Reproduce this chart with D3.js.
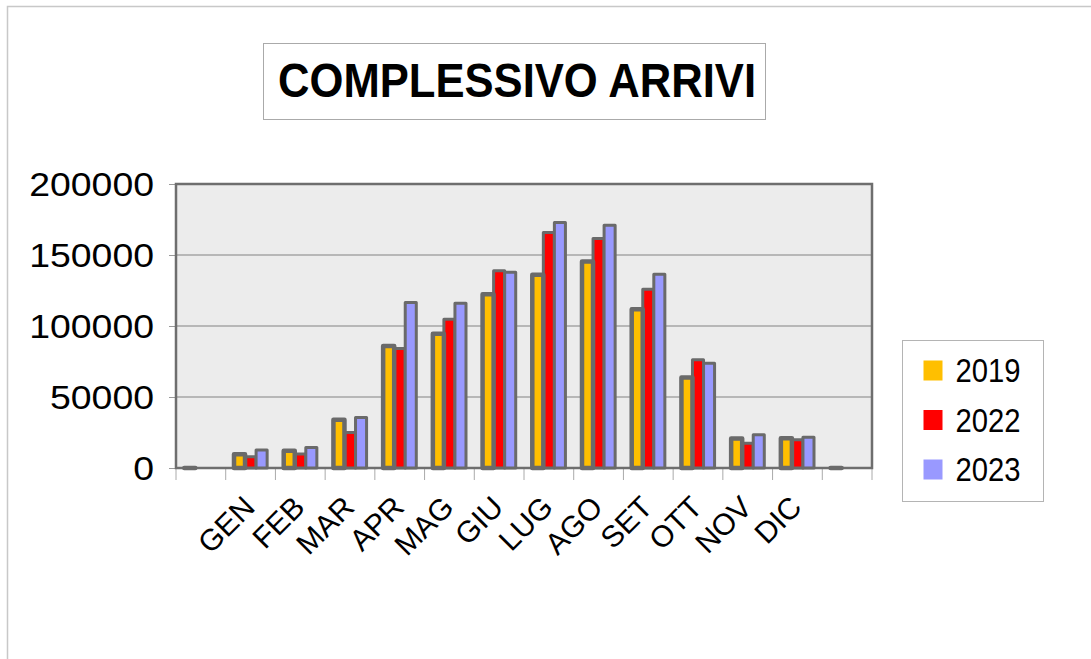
<!DOCTYPE html>
<html lang="it">
<head>
<meta charset="UTF-8">
<title>Complessivo arrivi</title>
<script src="https://d3js.org/d3.v7.min.js"></script>
<style>
  body { margin: 0; background: #fff; }
  svg { display: block; font-family: "Liberation Sans", Arial, sans-serif; }
</style>
</head>
<body>
<div id="chart"></div>
<script>
// categories (first and last slot are empty in the original sheet)
const months = ["", "GEN", "FEB", "MAR", "APR", "MAG", "GIU", "LUG", "AGO", "SET", "OTT", "NOV", "DIC", ""];
const years = ["2019", "2022", "2023"];
const colors = ["#ffbf00", "#ff0000", "#9999ff"];
const arrivi2019 = [0, 9700, 12100, 33900, 86000, 94500, 122400, 136100, 145400, 111800, 63700, 20800, 21000, 0];
const arrivi2022 = [null, 7900, 9900, 25000, 84200, 104800, 138900, 165800, 161600, 125900, 76200, 17500, 19900, null];
const arrivi2023 = [null, 12700, 14400, 35600, 116500, 116100, 137900, 172900, 171000, 136500, 73800, 23400, 21700, null];
const yTicks = [0, 50000, 100000, 150000, 200000];

const series = [arrivi2019, arrivi2022, arrivi2023];

const W = 1091, H = 659;
const plot = { left: 176, right: 872, top: 184, bottom: 468 };

const svg = d3.select("#chart").append("svg")
  .attr("width", W).attr("height", H);

// page frame
svg.append("rect")
  .attr("x", 7.5).attr("y", 6.5)
  .attr("width", W + 10).attr("height", H + 10)
  .attr("fill", "#fff").attr("stroke", "#c8c8c8").attr("stroke-width", 1.5);

// title box
svg.append("rect")
  .attr("x", 263.5).attr("y", 43.5).attr("width", 502).attr("height", 76)
  .attr("fill", "#fff").attr("stroke", "#aaa");
svg.append("text")
  .attr("x", 517).attr("y", 97)
  .attr("text-anchor", "middle")
  .attr("font-size", 48).attr("font-weight", "bold")
  .attr("textLength", 478).attr("lengthAdjust", "spacingAndGlyphs")
  .text("COMPLESSIVO ARRIVI");

const x = d3.scaleBand()
  .domain(d3.range(months.length))
  .range([plot.left, plot.right]);

const xSub = d3.scaleBand()
  .domain(d3.range(years.length))
  .range([0, x.bandwidth()])
  .paddingOuter(0.75);

const y = d3.scaleLinear()
  .domain([0, 200000])
  .range([plot.bottom, plot.top]);

// plot background
svg.append("rect")
  .attr("x", plot.left).attr("y", plot.top)
  .attr("width", plot.right - plot.left).attr("height", plot.bottom - plot.top)
  .attr("fill", "#ececec");

// grid
svg.append("g")
  .selectAll("line")
  .data(yTicks.slice(1, -1))
  .join("line")
  .attr("x1", plot.left).attr("x2", plot.right)
  .attr("y1", d => y(d)).attr("y2", d => y(d))
  .attr("stroke", "#a6a6a6").attr("stroke-width", 1.5);

// y axis
const yAxis = svg.append("g")
  .attr("transform", `translate(${plot.left},0)`)
  .call(d3.axisLeft(y).tickValues(yTicks).tickSize(7).tickPadding(15).tickFormat(d3.format("d")));
yAxis.select(".domain").remove();
yAxis.selectAll(".tick line").attr("stroke", "#999");
yAxis.selectAll(".tick text")
  .attr("font-size", 33)
  .attr("font-family", "Liberation Sans, Arial, sans-serif")
  .attr("fill", "#000")
  .attr("dy", "0.36em")
  .attr("textLength", d => String(d).length * 20.8)
  .attr("lengthAdjust", "spacingAndGlyphs");

// x axis ticks at slot boundaries
svg.append("g")
  .selectAll("line")
  .data(d3.range(months.length + 1))
  .join("line")
  .attr("x1", d => d < months.length ? x(d) : plot.right)
  .attr("x2", d => d < months.length ? x(d) : plot.right)
  .attr("y1", plot.bottom).attr("y2", plot.bottom + 12)
  .attr("stroke", "#aaa");

// plot border
svg.append("rect")
  .attr("x", plot.left).attr("y", plot.top)
  .attr("width", plot.right - plot.left).attr("height", plot.bottom - plot.top)
  .attr("fill", "none").attr("stroke", "#6e6e6e").attr("stroke-width", 2.5);

// bars: 2022 and 2023 first, then 2019 on top (as in the original)
const drawOrder = [1, 2, 0];
drawOrder.forEach(s => {
  svg.append("g")
    .selectAll("rect")
    .data(series[s].map((v, i) => ({ i, v })).filter(d => d.v !== null))
    .join("rect")
    .attr("x", d => x(d.i) + xSub(s))
    .attr("y", d => y(d.v))
    .attr("width", xSub.bandwidth())
    .attr("height", d => Math.max(y(0) - y(d.v), 0.01))
    .attr("fill", colors[s])
    .attr("stroke", "#6a6a6a")
    .attr("stroke-width", s === 0 ? 4.5 : 3)
    .attr("stroke-linejoin", "round");
});

// category labels
svg.append("g")
  .selectAll("text")
  .data(months.map((m, i) => ({ m, i })).filter(d => d.m !== ""))
  .join("text")
  .attr("transform", d => `translate(${x(d.i) + x.bandwidth() / 2 + 6},${plot.bottom + 41}) rotate(-45)`)
  .attr("text-anchor", "end")
  .attr("font-size", 30)
  .text(d => d.m);

// legend
const lg = svg.append("g").attr("transform", "translate(902.5,340.5)");
lg.append("rect")
  .attr("width", 141).attr("height", 161)
  .attr("fill", "#fff").attr("stroke", "#b4b4b4");
const item = lg.selectAll("g")
  .data(years)
  .join("g")
  .attr("transform", (d, i) => `translate(21,${30 + i * 49.5})`);
item.append("rect")
  .attr("x", 0).attr("y", -10).attr("width", 19).attr("height", 20)
  .attr("fill", (d, i) => colors[i]);
item.append("text")
  .attr("x", 32).attr("y", 11.5)
  .attr("font-size", 33)
  .attr("textLength", 65).attr("lengthAdjust", "spacingAndGlyphs")
  .text(d => d);
</script>
</body>
</html>
